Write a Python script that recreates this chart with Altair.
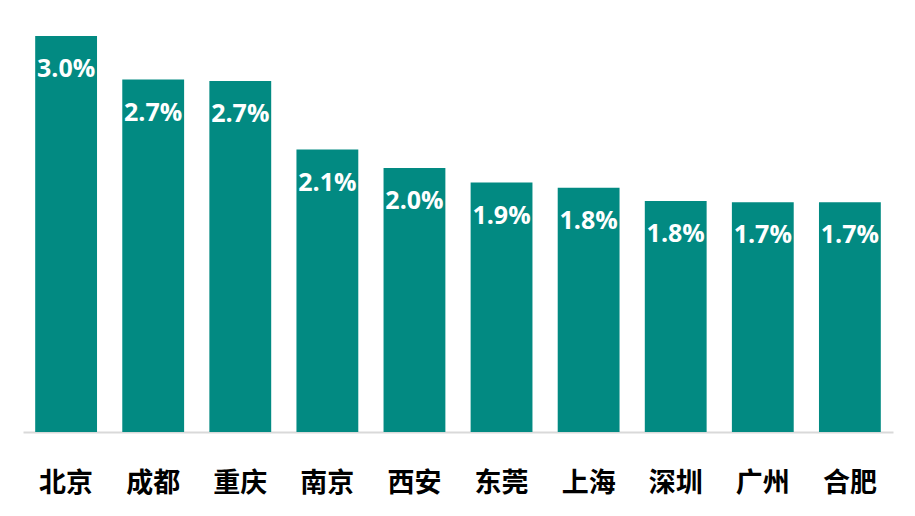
import altair as alt
import pandas as pd

cities = ["北京", "成都", "重庆", "南京", "西安", "东莞", "上海", "深圳", "广州", "合肥"]
values = [3.0, 2.67, 2.66, 2.14, 2.0, 1.89, 1.85, 1.75, 1.74, 1.74]
labels = ["3.0%", "2.7%", "2.7%", "2.1%", "2.0%", "1.9%", "1.8%", "1.8%", "1.7%", "1.7%"]

df = pd.DataFrame({"city": cities, "value": values, "label": labels})

x = alt.X("city:N", sort=cities, title=None,
          scale=alt.Scale(paddingInner=0.29, paddingOuter=0.14),
          axis=alt.Axis(labelAngle=0, ticks=False, domainColor="#d9d9d9", domainWidth=2,
                        labelFont="Noto Sans CJK SC", labelFontWeight="bold",
                        labelFontSize=27, labelColor="#000000", labelPadding=38))
y = alt.Y("value:Q", title=None, scale=alt.Scale(domain=[0, 3.1515], nice=False, zero=True),
          axis=None)

bars = alt.Chart(df).mark_bar(color="#028A82").encode(x=x, y=y)
text = alt.Chart(df).mark_text(color="white", font="Open Sans", fontWeight="bold",
                               fontSize=25, baseline="middle", dy=33).encode(
    x=alt.X("city:N", sort=cities), y="value:Q", text="label:N")

chart = (bars + text).properties(
    width=870, height=416,
    padding={"left": 15, "top": 8, "right": 14, "bottom": 76},
    autosize=alt.AutoSizeParams(type="none"),
).configure_view(stroke=None)

chart.save("out.html", embed_options={"renderer": "svg", "actions": False})
